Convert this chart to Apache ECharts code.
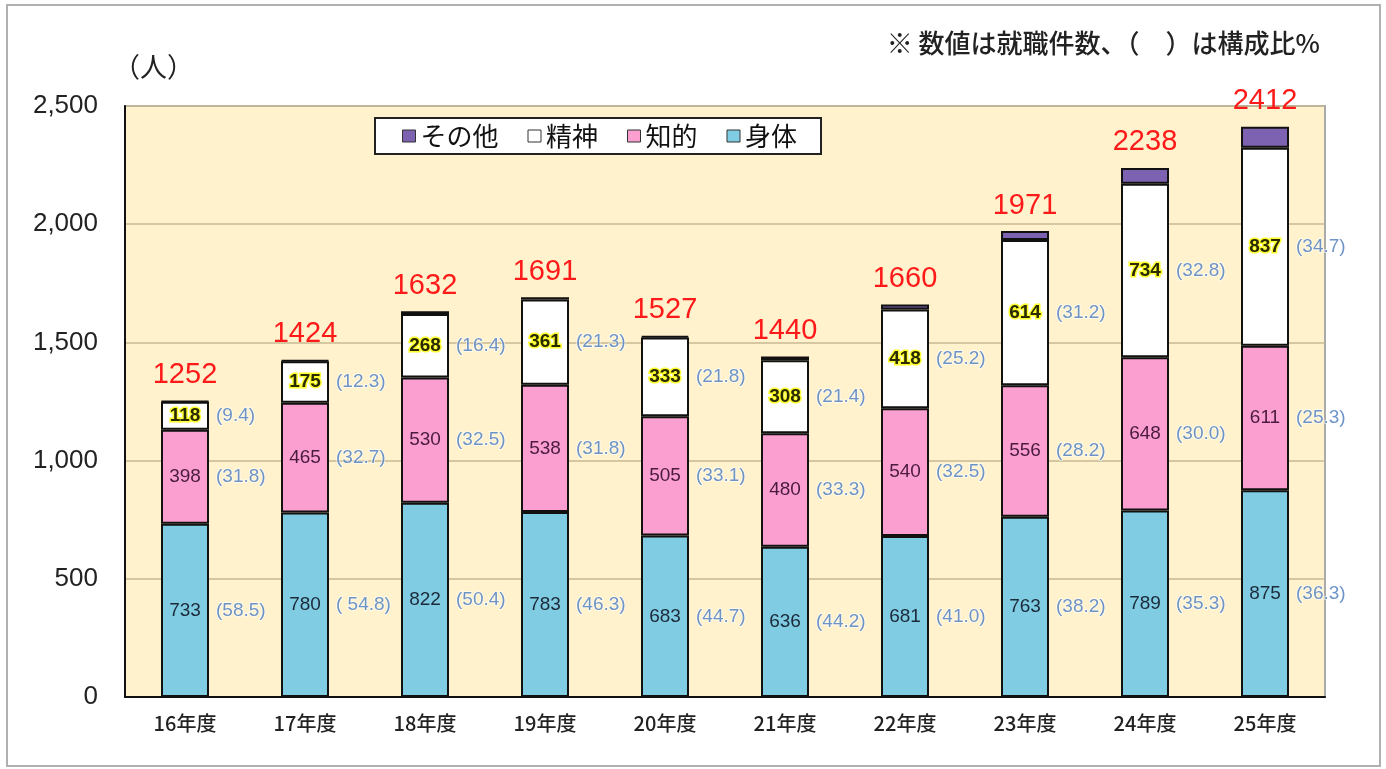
<!DOCTYPE html>
<html>
<head>
<meta charset="utf-8">
<script src="https://cdn.jsdelivr.net/npm/echarts@6/dist/echarts.min.js"></script>
<style>html,body{margin:0;padding:0;background:#fff;}#c{width:1386px;height:769px;}</style>
</head>
<body>
<div id="c"></div>
<script>
const categories = ['16年度','17年度','18年度','19年度','20年度','21年度','22年度','23年度','24年度','25年度'];
const shintai = [733, 780, 822, 783, 683, 636, 681, 763, 789, 875];
const chiteki = [398, 465, 530, 538, 505, 480, 540, 556, 648, 611];
const seishin = [118, 175, 268, 361, 333, 308, 418, 614, 734, 837];
const sonota  = [3, 4, 12, 9, 6, 16, 21, 38, 67, 89];
const totals  = [1252, 1424, 1632, 1691, 1527, 1440, 1660, 1971, 2238, 2412];
const pctShintai = ['(58.5)','( 54.8)','(50.4)','(46.3)','(44.7)','(44.2)','(41.0)','(38.2)','(35.3)','(36.3)'];
const pctChiteki = ['(31.8)','(32.7)','(32.5)','(31.8)','(33.1)','(33.3)','(32.5)','(28.2)','(30.0)','(25.3)'];
const pctSeishin = ['(9.4)','(12.3)','(16.4)','(21.3)','(21.8)','(21.4)','(25.2)','(31.2)','(32.8)','(34.7)'];
const yTicks = [0, 500, 1000, 1500, 2000, 2500];

const FONT = '"Liberation Sans","Noto Sans CJK JP",sans-serif';
const JP = '"Noto Sans CJK JP",sans-serif';
const BAR_W = 48;

const midShintai = shintai.map((v, i) => [i, v / 2]);
const midChiteki = chiteki.map((v, i) => [i, shintai[i] + v / 2]);
const midSeishin = seishin.map((v, i) => [i, shintai[i] + chiteki[i] + v / 2]);

function pctSeries(data, texts) {
  return {
    type: 'scatter', data: data, symbol: 'rect', symbolSize: [BAR_W, 1],
    itemStyle: { color: 'rgba(0,0,0,0)' }, silent: true, z: 5,
    label: {
      show: true, position: 'right', distance: 7,
      formatter: p => texts[p.dataIndex],
      fontFamily: FONT, fontSize: 19, color: '#4a7bbd',
      textBorderColor: 'rgba(255,255,255,0.7)', textBorderWidth: 2
    }
  };
}

const barBase = { type: 'bar', stack: 'all', barWidth: BAR_W, itemStyle: { borderColor: '#111', borderWidth: 2 } };

const chart = echarts.init(document.getElementById('c'));
chart.setOption({
  animation: false,
  backgroundColor: '#fff',
  graphic: [
    { type: 'rect', shape: { x: 7, y: 5, width: 1373, height: 761 }, style: { fill: 'none', stroke: '#b0b0b0', lineWidth: 2 }, z: -10 },
    { type: 'text', left: 113, top: 53, style: { text: '（人）', font: '27px ' + JP, fill: '#222' } },
    { type: 'text', right: 66, top: 30, style: { text: '※ 数値は就職件数、（　）は構成比%', font: '500 26px ' + JP, fill: '#222' } }
  ],
  legend: {
    data: ['その他', '精神', '知的', '身体'],
    left: 375, top: 118,
    orient: 'horizontal',
    backgroundColor: '#fff', borderColor: '#222', borderWidth: 2,
    padding: [5, 24, 5, 27], itemGap: 29, itemWidth: 13, itemHeight: 12,
    icon: 'rect',
    itemStyle: { borderColor: '#333', borderWidth: 1 },
    textStyle: { fontFamily: JP, fontSize: 26, color: '#111' }
  },
  grid: {
    left: 125, right: 61, top: 106, bottom: 72, show: true,
    backgroundColor: '#fff2cc', borderColor: '#aaa', borderWidth: 2
  },
  xAxis: {
    type: 'category', data: categories,
    axisLine: { show: true, lineStyle: { color: '#111', width: 2 } },
    axisTick: { show: false },
    axisLabel: { fontFamily: JP, fontSize: 20, fontWeight: 500, color: '#222', margin: 16 }
  },
  yAxis: {
    type: 'value', min: 0, max: 2500, interval: 500,
    axisLine: { show: true, lineStyle: { color: '#111', width: 2 } },
    axisTick: { show: false },
    splitLine: { lineStyle: { color: '#c6b995', width: 1.5 } },
    axisLabel: {
      fontFamily: FONT, fontSize: 26, color: '#222', margin: 27,
      formatter: v => yTicks.indexOf(v) >= 0 ? v.toLocaleString('en-US') : ''
    }
  },
  series: [
    Object.assign({}, barBase, {
      name: '身体', data: shintai,
      itemStyle: { color: '#80cce2', borderColor: '#111', borderWidth: 2 },
      label: { show: true, position: 'inside', fontFamily: FONT, fontSize: 19, color: '#1b2a3a' }
    }),
    Object.assign({}, barBase, {
      name: '知的', data: chiteki,
      itemStyle: { color: '#fa9fd0', borderColor: '#111', borderWidth: 2 },
      label: { show: true, position: 'inside', fontFamily: FONT, fontSize: 19, color: '#4a1a40' }
    }),
    Object.assign({}, barBase, {
      name: '精神', data: seishin,
      itemStyle: { color: '#ffffff', borderColor: '#111', borderWidth: 2 },
      label: { show: true, position: 'inside', fontFamily: FONT, fontSize: 19, fontWeight: 'bold', color: '#2a2a00', textBorderColor: '#ffff30', textBorderWidth: 3 }
    }),
    Object.assign({}, barBase, {
      name: 'その他', data: sonota,
      itemStyle: { color: '#7c62b0', borderColor: '#111', borderWidth: 2 },
      label: { show: true, position: 'top', distance: 11, formatter: p => String(totals[p.dataIndex]), fontFamily: FONT, fontSize: 29, color: '#ff1a1a' }
    }),
    pctSeries(midShintai, pctShintai),
    pctSeries(midChiteki, pctChiteki),
    pctSeries(midSeishin, pctSeishin)
  ]
});
</script>
</body>
</html>
